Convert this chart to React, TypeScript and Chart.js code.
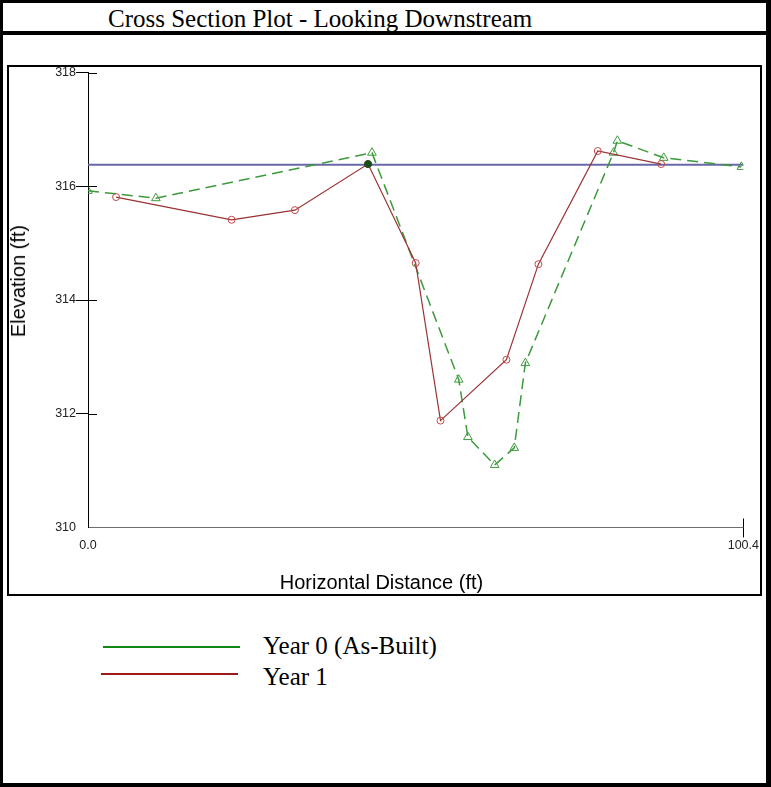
import React, { useEffect, useRef } from "react";
import { Chart, registerables } from "chart.js";

Chart.register(...registerables);

// ---- data ----
const year0X = [0, 10.4, 43.5, 56.8, 58.2, 62.3, 65.3, 67.0, 80.5, 81.1, 88.2, 100.1];
const year0Y = [315.92, 315.79, 316.59, 312.6, 311.59, 311.1, 311.4, 312.89, 316.59, 316.8, 316.5, 316.34];
const year1X = [4.3, 22.0, 31.7, 42.9, 50.2, 54.0, 64.1, 69.0, 78.1, 87.8];
const year1Y = [315.81, 315.41, 315.58, 316.39, 314.65, 311.88, 312.95, 314.63, 316.62, 316.39];
const bankfullX = [42.9];
const bankfullY = [316.39];
const waterSurface = 316.38;
const xMin = 0;
const xMax = 100.4;
const yMin = 310;
const yMax = 318;
const yStep = 2;
const xTickValues = [0, 100.4];
const seriesLabels = ["Year 0 (As-Built)", "Year 1"];

const GREEN = "#3c9a3c";
const RED = "#993333";

const toPts = (xs: number[], ys: number[]) => xs.map((x, i) => ({ x, y: ys[i] }));

const innerTicks = {
  id: "innerTicks",
  afterDraw(chart: any) {
    const { ctx, chartArea, scales } = chart;
    const y = scales.y;
    const x = scales.x;
    ctx.save();
    ctx.strokeStyle = "#000";
    ctx.lineWidth = 1;
    ctx.beginPath();
    y.ticks.forEach((t: any) => {
      if (t.value === yMin) return;
      const py = Math.round(y.getPixelForValue(t.value)) + 0.5;
      ctx.moveTo(chartArea.left, py);
      ctx.lineTo(chartArea.left + 9, py);
    });
    x.ticks.forEach((t: any) => {
      if (t.value === xMin) return;
      const px = Math.round(x.getPixelForValue(t.value)) + 0.5;
      ctx.moveTo(px, chartArea.bottom - 9);
      ctx.lineTo(px, chartArea.bottom);
    });
    ctx.stroke();
    ctx.restore();
  },
};

export default function App() {
  const ref = useRef<HTMLCanvasElement>(null);

  useEffect(() => {
    if (!ref.current) return;
    const chart = new Chart(ref.current, {
      type: "scatter",
      data: {
        datasets: [
          {
            label: "Water Surface",
            data: [
              { x: xMin, y: waterSurface },
              { x: xMax, y: waterSurface },
            ],
            showLine: true,
            borderColor: "#6868a8",
            borderWidth: 2,
            pointRadius: 0,
            order: 3,
          },
          {
            label: seriesLabels[0],
            data: toPts(year0X, year0Y),
            showLine: true,
            borderColor: GREEN,
            borderWidth: 1.5,
            borderDash: [11, 6],
            pointStyle: "triangle",
            pointRadius: 5,
            pointBorderColor: GREEN,
            pointBackgroundColor: "rgba(0,0,0,0)",
            pointBorderWidth: 1,
            order: 2,
          },
          {
            label: seriesLabels[1],
            data: toPts(year1X, year1Y),
            showLine: true,
            borderColor: RED,
            borderWidth: 1.2,
            pointStyle: "circle",
            pointRadius: 3.5,
            pointBorderColor: "#c04848",
            pointBackgroundColor: "rgba(0,0,0,0)",
            pointBorderWidth: 1,
            order: 1,
          },
          {
            label: "Bankfull",
            data: toPts(bankfullX, bankfullY),
            showLine: false,
            pointRadius: 3.5,
            pointBackgroundColor: "#184d18",
            pointBorderColor: "#184d18",
            order: 0,
          },
        ],
      },
      options: {
        responsive: false,
        animation: false,
        events: [],
        layout: { padding: { top: 12.5, right: 16, bottom: 0, left: 0 } },
        plugins: {
          legend: { display: false },
          tooltip: { enabled: false },
          title: { display: false },
        },
        scales: {
          x: {
            type: "linear",
            min: xMin,
            max: xMax,
            afterBuildTicks: (s: any) => {
              s.ticks = xTickValues.map((v) => ({ value: v }));
            },
            afterFit: (s: any) => {
              s.height = 66.5;
            },
            ticks: {
              autoSkip: false,
              maxRotation: 0,
              padding: 1,
              color: "#222",
              font: { family: "'Liberation Sans', Arial, sans-serif", size: 12.5 },
              callback: (v: any) => Number(v).toFixed(1),
            },
            grid: {
              drawOnChartArea: false,
              drawTicks: true,
              tickLength: 10,
              tickColor: (c: any) => (c.index === 0 ? "rgba(0,0,0,0)" : "#000"),
            },
            border: { display: true, color: "#6e6e6e", width: 1 },
          },
          y: {
            type: "linear",
            min: yMin,
            max: yMax,
            afterFit: (s: any) => {
              s.width = 79;
            },
            ticks: {
              stepSize: yStep,
              padding: 0,
              color: "#222",
              font: { family: "'Liberation Sans', Arial, sans-serif", size: 12.5 },
            },
            grid: {
              drawOnChartArea: false,
              drawTicks: true,
              tickLength: 12,
              tickColor: (c: any) => (c.tick && c.tick.value === yMin ? "rgba(0,0,0,0)" : "#000"),
            },
            border: { display: true, color: "#000", width: 1 },
          },
        },
      },
      plugins: [innerTicks],
    });
    return () => chart.destroy();
  }, []);

  const serif = "'Liberation Serif', 'Times New Roman', serif";
  const sans = "'Liberation Sans', Arial, sans-serif";

  return (
    <div
      style={{
        position: "absolute",
        left: 0,
        top: 0,
        width: 771,
        height: 787,
        boxSizing: "border-box",
        borderTop: "3px solid #000",
        borderLeft: "3px solid #000",
        borderRight: "5px solid #000",
        borderBottom: "4px solid #000",
        background: "#fff",
        overflow: "hidden",
      }}
    >
      <div
        style={{
          position: "absolute",
          left: 105,
          top: 3,
          fontFamily: serif,
          fontSize: 25,
          lineHeight: "25px",
          whiteSpace: "nowrap",
          color: "#000",
        }}
      >
        Cross Section Plot - Looking Downstream
      </div>
      <div style={{ position: "absolute", left: -3, top: 28, width: 771, height: 4, background: "#000" }} />
      <div
        style={{
          position: "absolute",
          left: 4,
          top: 62,
          width: 755,
          height: 531,
          boxSizing: "border-box",
          border: "2px solid #000",
        }}
      />
      <canvas
        ref={ref}
        width={751}
        height={534}
        style={{ position: "absolute", left: 6, top: 57, width: 751, height: 534 }}
      />
      <div
        style={{
          position: "absolute",
          left: 378.5,
          top: 569,
          transform: "translateX(-50%)",
          fontFamily: sans,
          fontSize: 20,
          lineHeight: "20px",
          whiteSpace: "nowrap",
          color: "#000",
        }}
      >
        Horizontal Distance (ft)
      </div>
      <div
        style={{
          position: "absolute",
          left: 15,
          top: 278,
          transform: "translate(-50%, -50%) rotate(-90deg)",
          fontFamily: sans,
          fontSize: 20,
          lineHeight: "20px",
          whiteSpace: "nowrap",
          color: "#000",
        }}
      >
        Elevation (ft)
      </div>
      <div style={{ position: "absolute", left: 100, top: 643, width: 137, height: 2, background: "#118811" }} />
      <div style={{ position: "absolute", left: 98, top: 670, width: 137, height: 2, background: "#a01818" }} />
      <div
        style={{
          position: "absolute",
          left: 260,
          top: 630,
          fontFamily: serif,
          fontSize: 25,
          lineHeight: "25px",
          whiteSpace: "nowrap",
          color: "#000",
        }}
      >
        {seriesLabels[0]}
      </div>
      <div
        style={{
          position: "absolute",
          left: 260,
          top: 661,
          fontFamily: serif,
          fontSize: 25,
          lineHeight: "25px",
          whiteSpace: "nowrap",
          color: "#000",
        }}
      >
        {seriesLabels[1]}
      </div>
    </div>
  );
}
